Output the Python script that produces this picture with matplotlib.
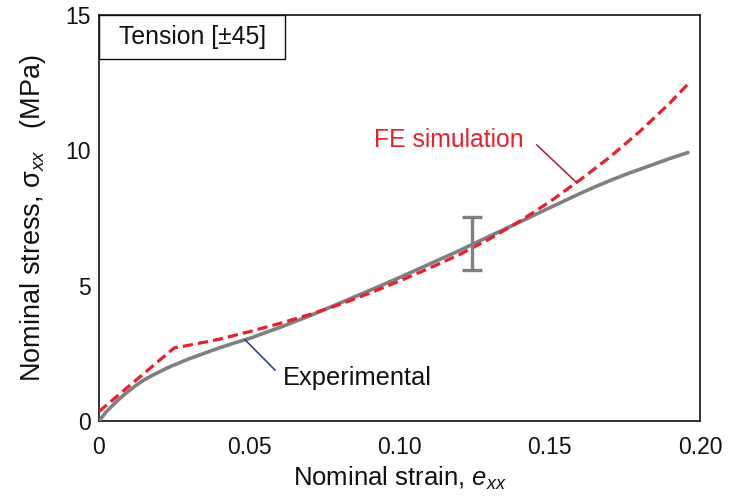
import matplotlib
matplotlib.use('Agg')
import matplotlib.pyplot as plt
from matplotlib.patches import Rectangle

plt.rcParams['font.family'] = ['Liberation Sans', 'DejaVu Sans']
plt.rcParams['mathtext.fontset'] = 'custom'
plt.rcParams['mathtext.rm'] = 'Liberation Sans'
plt.rcParams['mathtext.it'] = 'Liberation Sans:italic'

GRAY = '#808080'
RED = '#e8202a'
DARK_RED = '#a8202c'
BLUE = '#1f3a93'
INK = '#111111'

# ── measured curve ──
exp_strain = [0, 0.0025, 0.005, 0.0075, 0.01, 0.0125, 0.015, 0.0175, 0.02,
              0.0225, 0.025, 0.03, 0.035, 0.04, 0.045, 0.05, 0.06, 0.07,
              0.08, 0.09, 0.10, 0.11, 0.12, 0.13, 0.14, 0.15, 0.16, 0.165,
              0.17, 0.175, 0.18, 0.185, 0.19, 0.196]
exp_stress = [0, 0.35, 0.63, 0.89, 1.12, 1.33, 1.52, 1.67, 1.81,
              1.95, 2.07, 2.3, 2.5, 2.7, 2.88, 3.05, 3.45, 3.88,
              4.35, 4.82, 5.3, 5.8, 6.3, 6.83, 7.35, 7.88, 8.4, 8.65,
              8.88, 9.1, 9.3, 9.5, 9.7, 9.92]

# ── FE model ──
fe_strain = [0, 0.025, 0.03, 0.04, 0.05, 0.06, 0.07, 0.08, 0.09, 0.10,
             0.11, 0.12, 0.13, 0.14, 0.15, 0.16, 0.17, 0.18, 0.19, 0.196]
fe_stress = [0.35, 2.7, 2.8, 3.02, 3.3, 3.6, 3.93, 4.3, 4.72, 5.17,
             5.65, 6.15, 6.73, 7.38, 8.1, 8.9, 9.75, 10.7, 11.75, 12.45]

# scatter band of the tests
err_strain = [0.124]
err_stress = [6.55]
err_half = [0.98]

xticks = [0, 0.05, 0.10, 0.15, 0.20]
xticklabels = ['0', '0.05', '0.10', '0.15', '0.20']
yticks = [0, 5, 10, 15]

fig = plt.figure(figsize=(7.3, 4.98), dpi=100)
ax = fig.add_axes([0.1356, 0.1546, 0.8233, 0.8153])

ax.plot(exp_strain, exp_stress, color=GRAY, lw=2.6, solid_capstyle='round', zorder=3)
ax.plot(fe_strain, fe_stress, color=RED, lw=2.3, dashes=(3.2, 1.6), zorder=4)
ax.errorbar(err_strain, err_stress, yerr=err_half, fmt='none', ecolor=GRAY,
            elinewidth=2.4, capsize=7, capthick=2.4, zorder=5)

ax.set_xlim(0, 0.20)
ax.set_ylim(0, 15)

# labels on every step, tick marks only inside the frame
ax.set_xticks(xticks)
ax.set_xticklabels(xticklabels)
ax.set_yticks(yticks)
ax.set_xticks(xticks[1:-1], minor=True)
ax.set_yticks(yticks[1:-1], minor=True)
ax.tick_params(which='major', length=0, labelsize=16.5, colors=INK)
ax.tick_params(axis='x', which='major', pad=11)
ax.tick_params(axis='y', which='major', pad=6)
ax.tick_params(which='minor', direction='in', length=8.5, width=1.2, color=INK)

for s in ax.spines.values():
    s.set_linewidth(1.2)
    s.set_color(INK)

ax.set_xlabel('Nominal strain, $e_{xx}$', fontsize=18.5, labelpad=4, color=INK)
ax.set_ylabel('Nominal stress, σ$_{xx}$   (MPa)', fontsize=19.5, labelpad=12, color=INK)

# case label box
ax.add_patch(Rectangle((0, 0.892), 0.31, 0.108, transform=ax.transAxes,
                       facecolor='white', edgecolor=INK, lw=1.0, zorder=6))
ax.text(0.155, 0.946, 'Tension [±45]', transform=ax.transAxes, ha='center',
        va='center', fontsize=17.8, color=INK, zorder=7)

# callouts
ax.text(0.0915, 10.4, 'FE simulation', color=RED, fontsize=17.8, ha='left', va='center')
ax.plot([0.1457, 0.159], [10.2, 8.8], color=DARK_RED, lw=1.1, zorder=6)
ax.text(0.0612, 1.6, 'Experimental', color=INK, fontsize=18.4, ha='left', va='center')
ax.plot([0.0486, 0.0586], [3.0, 1.88], color=BLUE, lw=1.1, zorder=6)

fig.savefig('out.png', dpi=100, facecolor='white')
